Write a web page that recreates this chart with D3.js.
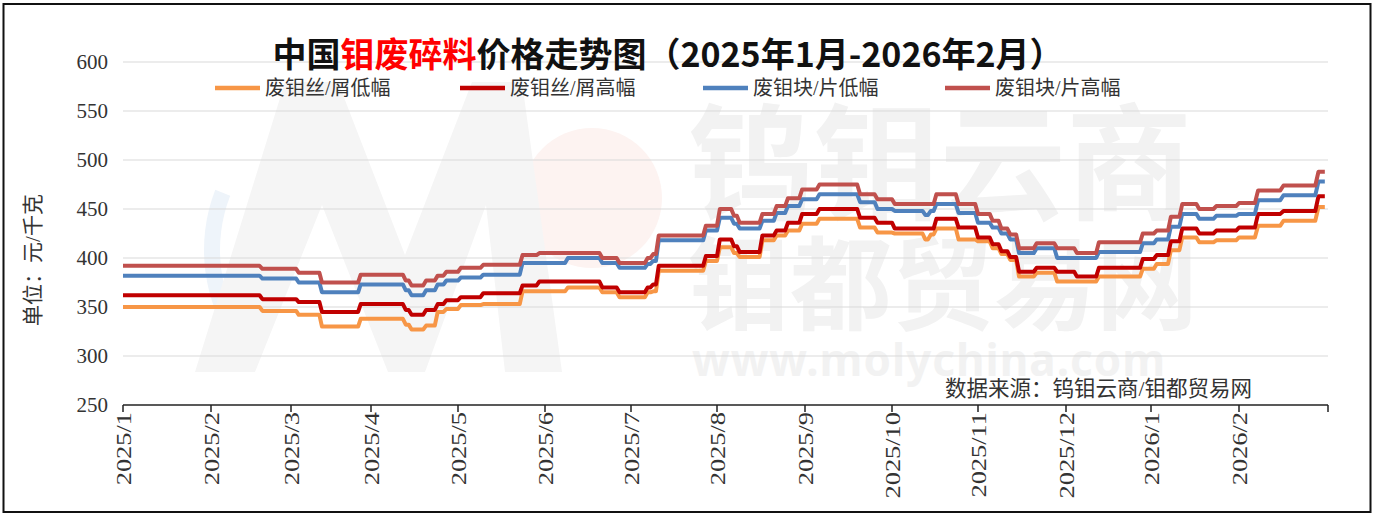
<!DOCTYPE html>
<html><head><meta charset="utf-8">
<script src="https://cdn.jsdelivr.net/npm/d3@7"></script>
<style>
html,body{margin:0;padding:0;background:#fff;}
svg{display:block;}
</style></head>
<body>
<svg id="chart" width="1386" height="516"></svg>
<script>
// ---------- data ----------
const levelDates = ["2025-01-01","2025-02-19","2025-03-04","2025-03-13","2025-03-28","2025-04-13","2025-04-15","2025-04-20","2025-04-24","2025-04-27","2025-05-02","2025-05-10","2025-05-24","2025-05-30","2025-06-09","2025-06-21","2025-06-27","2025-07-07","2025-07-09","2025-07-11","2025-07-28","2025-08-02","2025-08-07","2025-08-09","2025-08-17","2025-08-22","2025-08-26","2025-08-31","2025-09-06","2025-09-20","2025-09-26","2025-10-02","2025-10-13","2025-10-15","2025-10-17","2025-10-25","2025-11-01","2025-11-06","2025-11-09","2025-11-12","2025-11-15","2025-11-21","2025-11-28","2025-12-05","2025-12-13","2025-12-29","2026-01-03","2026-01-08","2026-01-12","2026-01-18","2026-01-24","2026-02-01","2026-02-07","2026-02-15","2026-02-26"];
const lastDate = "2026-02-28";
const wireLow   = [350,346,342,330,338,332,327,331,345,348,352,353,366,366,370,365,360,365,366,387,397,411,405,401,418,423,428,435,440,431,426,425,419,424,430,419,417,410,404,398,381,385,376,376,381,389,394,408,421,416,418,421,433,438,452];
const wireHigh  = [362,358,355,345,353,347,342,347,353,357,360,364,372,376,376,370,365,370,373,392,402,419,412,406,423,428,436,445,450,441,436,430,430,430,440,431,421,414,407,401,386,390,386,381,390,399,403,417,430,425,428,431,445,448,463];
const blockLow  = [382,379,375,365,373,367,362,367,373,377,380,383,395,395,400,395,390,394,397,418,428,441,435,430,438,446,453,460,465,457,450,448,444,448,455,446,436,431,425,419,405,410,400,400,406,415,419,432,445,440,443,445,459,464,478];
const blockHigh = [392,389,385,375,383,377,372,377,382,386,390,393,403,405,405,400,395,400,404,423,433,450,443,436,445,453,461,470,475,465,460,455,455,455,465,455,445,438,430,424,410,415,410,405,416,425,428,442,455,450,453,456,469,474,488];
const seriesNames  = ["废钼丝/屑低幅","废钼丝/屑高幅","废钼块/片低幅","废钼块/片高幅"];
const seriesColors = ["#F79646","#C00000","#4F81BD","#C0504D"];
const monthTicks = ["2025-01-01","2025-02-01","2025-03-01","2025-04-01","2025-05-01","2025-06-01","2025-07-01","2025-08-01","2025-09-01","2025-10-01","2025-11-01","2025-12-01","2026-01-01","2026-02-01","2026-03-01"];
const monthTickX = [123,211,291,371,458,545,631,717,805,892,978,1066,1151,1239,1328];
const yTicks = [250,300,350,400,450,500,550,600];

// ---------- setup ----------
const parse = d3.timeParse("%Y-%m-%d");
const svg = d3.select("#chart");
const x = d3.scaleTime().domain(monthTicks.map(parse)).range(monthTickX);
const y = d3.scaleLinear().domain([250,600]).range([405,62]);
const serifFont = "'Liberation Serif','Noto Sans CJK SC',serif";
const cjkFont = "'Liberation Serif','Noto Sans CJK SC',sans-serif";

// outer frame
svg.append("rect").attr("x",3.5).attr("y",4).attr("width",1367).attr("height",508)
  .attr("fill","#fff").attr("stroke","#111").attr("stroke-width",2);

// watermark (decorative logo)
const wm = svg.append("g").attr("pointer-events","none");
wm.append("path")
  .attr("d", d3.arc()({innerRadius:150, outerRadius:166, startAngle:-2.2, endAngle:-1.2}))
  .attr("transform","translate(370,250)").attr("fill","#eef4fa");
wm.append("circle").attr("cx",592).attr("cy",198).attr("r",70).attr("fill","#fdf3f1");
const mShape = d3.path();
[[195,372],[285,82],[338,82],[405,255],[472,82],[522,82],[562,372],[505,372],[486,205],[425,372],[388,372],[322,205],[255,372]]
  .forEach((p,i)=> i ? mShape.lineTo(p[0],p[1]) : mShape.moveTo(p[0],p[1]));
mShape.closePath();
wm.append("path").attr("d",mShape.toString()).attr("fill","#f5f5f5");
wm.append("text").attr("x",688).attr("y",210).text("钨钼云商")
  .attr("font-family","'Noto Sans CJK SC',sans-serif").attr("font-weight",700)
  .attr("font-size",126).attr("fill","#f2f2f2");
wm.append("text").attr("x",688).attr("y",322).text("钼都贸易网")
  .attr("font-family","'Noto Sans CJK SC',sans-serif").attr("font-weight",700)
  .attr("font-size",102).attr("fill","#f2f2f2");
wm.append("text").attr("x",692).attr("y",376).text("www.molychina.com")
  .attr("font-family","'Noto Sans',sans-serif").attr("font-weight",700)
  .attr("font-size",44).attr("fill","#f2f2f2").attr("letter-spacing",1);

// gridlines
svg.append("g").selectAll("line").data(yTicks.filter(v=>v>250)).join("line")
  .attr("x1",123).attr("x2",1328).attr("y1",d=>y(d)).attr("y2",d=>y(d))
  .attr("stroke","#d9d9d9").attr("stroke-width",1);

// y labels
svg.append("g").selectAll("text").data(yTicks).join("text")
  .attr("x",108).attr("y",d=>y(d)).attr("text-anchor","end").attr("dominant-baseline","central")
  .attr("font-family",serifFont).attr("font-size",21).attr("fill","#333").text(d=>d);

// x axis
const xAxisG = svg.append("g").attr("transform","translate(0,405)");
xAxisG.append("line").attr("x1",123).attr("x2",1328).attr("stroke","#222").attr("stroke-width",1.5);
xAxisG.selectAll("line.tick").data(monthTicks.map(parse)).join("line").attr("class","tick")
  .attr("x1",d=>x(d)).attr("x2",d=>x(d)).attr("y1",0).attr("y2",7).attr("stroke","#222").attr("stroke-width",1.5);
const fmt = d => d.getFullYear()+"/"+(d.getMonth()+1);
xAxisG.selectAll("text").data(monthTicks.slice(0,-1).map(parse)).join("text")
  .attr("transform",d=>`translate(${x(d)},7) rotate(-90) scale(1.2,1)`)
  .attr("text-anchor","end").attr("dominant-baseline","central")
  .attr("font-family",serifFont).attr("font-size",22).attr("fill","#333").text(fmt);

// lines
const allSeries = [wireLow, wireHigh, blockLow, blockHigh];
const dayMs = 86400000;
function pointsFor(vals){
  const pts=[];
  for(let i=0;i<levelDates.length;i++){
    const s = parse(levelDates[i]);
    const e = i<levelDates.length-1 ? new Date(parse(levelDates[i+1]).getTime()-dayMs) : parse(lastDate);
    pts.push([s,vals[i]]);
    if(e>s) pts.push([e,vals[i]]);
  }
  return pts;
}
const line = d3.line().x(d=>x(d[0])).y(d=>y(d[1]));
svg.append("g").selectAll("path").data(allSeries).join("path")
  .attr("d",d=>line(pointsFor(d))).attr("fill","none")
  .attr("stroke",(d,i)=>seriesColors[i]).attr("stroke-width",4)
  .attr("stroke-linejoin","round").attr("stroke-linecap","butt");

// legend
const legendX = [215,460,703,945];
const lg = svg.append("g").selectAll("g").data(seriesNames).join("g")
  .attr("transform",(d,i)=>`translate(${legendX[i]},88)`);
lg.append("line").attr("x1",0).attr("x2",45).attr("stroke",(d,i)=>seriesColors[i]).attr("stroke-width",4.5);
lg.append("text").attr("x",50).attr("dominant-baseline","central")
  .attr("font-family",cjkFont).attr("font-size",20).attr("fill","#333").text(d=>d);

// title
const title = svg.append("text").attr("x",668).attr("y",67).attr("text-anchor","middle")
  .attr("font-family","'Noto Sans CJK SC',sans-serif").attr("font-weight",700).attr("font-size",34).attr("fill","#111");
title.append("tspan").text("中国");
title.append("tspan").attr("fill","#FF0000").text("钼废碎料");
title.append("tspan").text("价格走势图（2025年1月-2026年2月）");

// y title
svg.append("text").attr("transform","translate(33,260) rotate(-90)").attr("text-anchor","middle")
  .attr("dominant-baseline","central").attr("font-family",cjkFont).attr("font-size",21).attr("fill","#333")
  .text("单位：元/千克");

// source
svg.append("text").attr("x",945).attr("y",389).attr("dominant-baseline","central")
  .attr("font-family",cjkFont).attr("font-size",21.5).attr("fill","#333")
  .text("数据来源：钨钼云商/钼都贸易网");
</script>
</body></html>
